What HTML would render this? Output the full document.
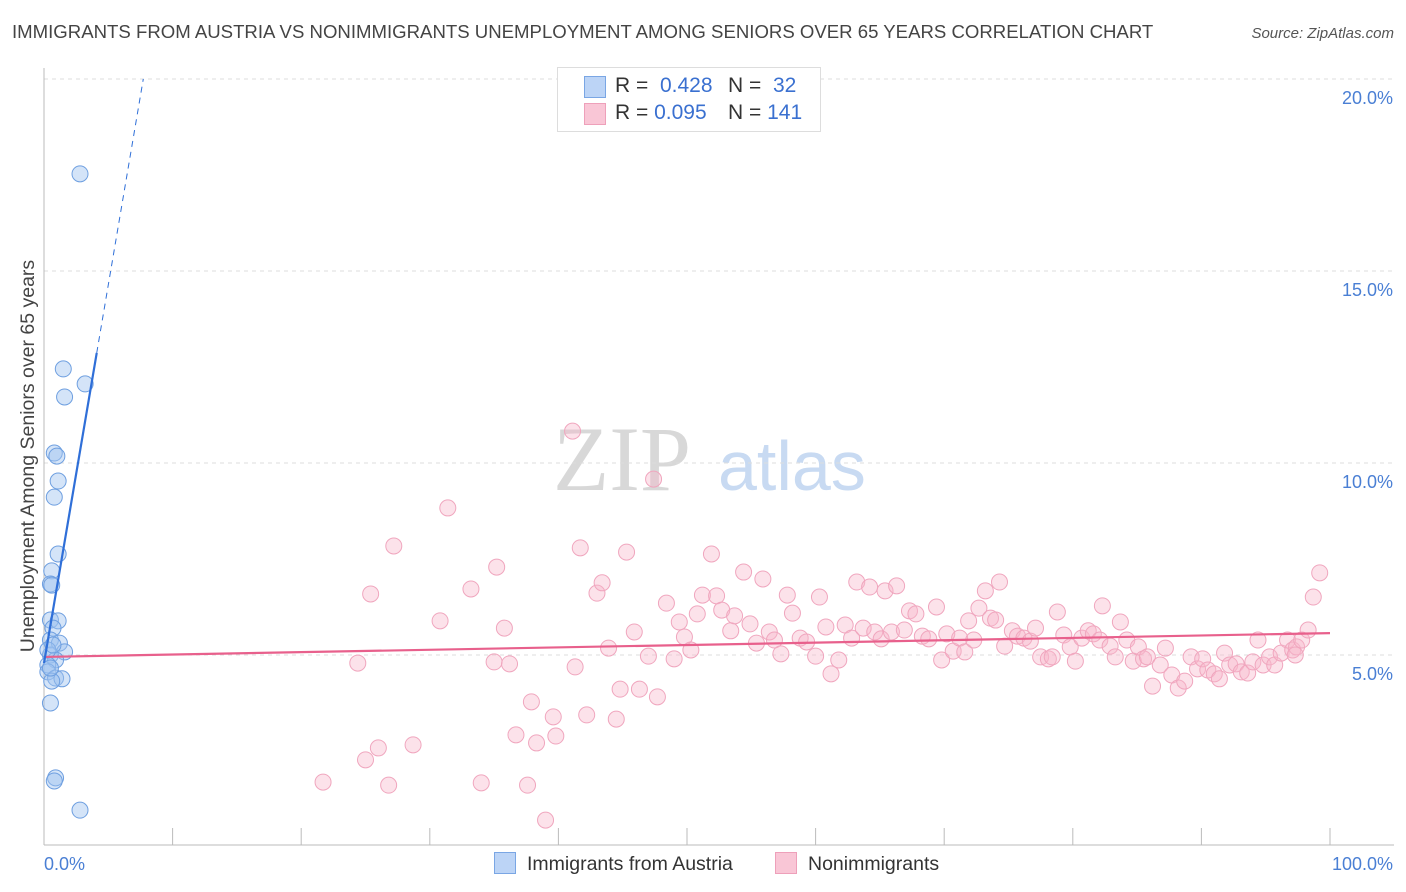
<!DOCTYPE html>
<html><head><meta charset="utf-8"><style>
body{margin:0;background:#fff;font-family:"Liberation Sans",sans-serif;}
#wrap{position:relative;width:1406px;height:892px;overflow:hidden;}
.t{position:absolute;white-space:nowrap;}
</style></head><body>
<div id="wrap">
<div class="t" style="left:12px;top:21px;font-size:18.6px;color:#444;">IMMIGRANTS FROM AUSTRIA VS NONIMMIGRANTS UNEMPLOYMENT AMONG SENIORS OVER 65 YEARS CORRELATION CHART</div>
<div class="t" style="right:12px;top:25px;font-size:15px;color:#555;font-style:italic;">Source: ZipAtlas.com</div>
<svg id="svg" width="1406" height="892" style="position:absolute;left:0;top:0"></svg>
</div>
<script>
const blueX=[2.8,1.5,3.2,1.6,0.8,1.0,1.1,0.8,1.1,0.6,0.5,0.6,0.5,1.1,0.7,0.5,1.2,1.6,0.5,0.9,0.3,0.3,0.9,1.4,0.6,0.5,0.9,0.8,2.8,0.3,0.7,0.5];
const blueY=[17.53,12.45,12.06,11.72,10.26,10.18,9.53,9.11,7.63,7.19,6.85,6.82,5.91,5.89,5.70,5.39,5.31,5.08,5.00,4.87,4.74,4.56,4.40,4.38,4.32,3.75,1.80,1.72,0.96,5.13,5.26,4.66];
const pinkX=[21.7,24.4,25.0,25.4,26.0,26.8,27.2,28.7,30.8,31.4,33.2,34.0,35.0,35.2,35.8,36.2,36.7,37.6,37.9,38.3,39.0,39.6,39.8,41.1,41.3,41.7,42.2,43.0,43.4,43.9,44.5,44.8,45.3,45.9,46.3,47.0,47.4,47.7,48.4,49.0,49.4,49.8,50.3,50.8,51.2,51.9,52.3,52.7,53.4,53.7,54.4,54.9,55.4,55.9,56.4,56.8,57.3,57.8,58.2,58.8,59.3,60.0,60.3,60.8,61.2,61.8,62.3,62.8,63.2,63.7,64.2,64.6,65.1,65.4,65.9,66.3,66.9,67.3,67.8,68.3,68.8,69.4,69.8,70.2,70.7,71.2,71.6,71.9,72.3,72.7,73.2,73.6,74.0,74.3,74.7,75.3,75.7,76.2,76.7,77.1,77.5,78.1,78.4,78.8,79.3,79.8,80.2,80.7,81.2,81.6,82.1,82.3,82.9,83.3,83.7,84.2,84.7,85.1,85.5,85.8,86.2,86.8,87.2,87.7,88.2,88.7,89.2,89.7,90.1,90.5,91.0,91.4,91.8,92.2,92.7,93.1,93.6,94.0,94.4,94.8,95.3,95.7,96.2,96.7,97.1,97.4,97.8,98.3,98.7,99.2,97.3];
const pinkY=[1.69,4.79,2.27,6.59,2.58,1.61,7.84,2.66,5.89,8.83,6.72,1.67,4.82,7.29,5.70,4.77,2.92,1.61,3.78,2.71,0.70,3.39,2.89,10.83,4.69,7.79,3.44,6.61,6.88,5.18,3.33,4.11,7.68,5.60,4.11,4.97,9.58,3.91,6.35,4.90,5.86,5.47,5.13,6.07,6.56,7.63,6.54,6.17,5.63,6.02,7.16,5.81,5.31,6.98,5.60,5.39,5.03,6.56,6.09,5.44,5.34,4.97,6.51,5.73,4.51,4.87,5.78,5.44,6.90,5.70,6.77,5.60,5.42,6.67,5.60,6.80,5.65,6.15,6.07,5.49,5.42,6.25,4.87,5.55,5.10,5.44,5.08,5.89,5.39,6.22,6.67,5.96,5.91,6.90,5.23,5.63,5.49,5.44,5.36,5.70,4.95,4.90,4.95,6.12,5.52,5.21,4.84,5.44,5.63,5.55,5.39,6.28,5.23,4.95,5.86,5.39,4.84,5.21,4.90,4.95,4.19,4.74,5.18,4.48,4.14,4.32,4.95,4.64,4.90,4.61,4.51,4.38,5.05,4.74,4.77,4.56,4.53,4.82,5.39,4.74,4.95,4.74,5.05,5.39,5.13,5.21,5.39,5.65,6.51,7.14,5.00];
const yTicks=[5,10,15,20];
const yTickLabels=["5.0%","10.0%","15.0%","20.0%"];
const blueFit=[4.79,1.97]; // intercept, slope
const pinkFit=[4.95,0.0062];
const NS='http://www.w3.org/2000/svg';
const svg=document.getElementById('svg');
const X=v=>44+v*12.86, Y=v=>847-v*38.4;
function el(t,a,p){const e=document.createElementNS(NS,t);for(const k in a)e.setAttribute(k,a[k]);(p||svg).appendChild(e);return e;}
let w=el('text',{x:553,y:490,'font-size':92,fill:'#d8d8d8','font-family':'Liberation Serif,serif'});w.textContent='ZIP';


let w2=el('text',{x:718,y:490,'font-size':70,fill:'#c8daf2','font-family':'Liberation Sans,sans-serif'});w2.textContent='atlas';


yTicks.forEach((t,i)=>{
 const g=el('line',{x1:44,x2:1394,y1:Y(t),y2:Y(t),stroke:'#ddd','stroke-dasharray':'4,4'});
 
 
 const tx=el('text',{x:1393,y:Y(t)+25,'text-anchor':'end','font-size':18,fill:'#4a7fd4'});tx.textContent=yTickLabels[i];
 
 
});
const ya=el('line',{x1:44,x2:44,y1:68,y2:845,stroke:'#bbb'});


const xa=el('line',{x1:44,x2:1394,y1:845,y2:845,stroke:'#bbb'});


for(let i=0;i<=10;i++){const tk=el('line',{x1:X(i*10),x2:X(i*10),y1:828,y2:845,stroke:'#bbb'});
 
 }
const x0=el('text',{x:44,y:870,'font-size':18,fill:'#4a7fd4'});x0.textContent='0.0%';


const x1=el('text',{x:1393,y:870,'font-size':18,fill:'#4a7fd4','text-anchor':'end'});x1.textContent='100.0%';


const yl=el('text',{transform:'translate(34,456) rotate(-90)','text-anchor':'middle','font-size':19.5,fill:'#444'});yl.textContent='Unemployment Among Seniors over 65 years';


pinkX.forEach((v,i)=>{const c=el('circle',{cx:X(v),cy:Y(pinkY[i]),r:8,fill:'rgba(248,182,202,0.4)',stroke:'#f0a6be','stroke-width':1});
 
 });
blueX.forEach((v,i)=>{const c=el('circle',{cx:X(v),cy:Y(blueY[i]),r:8,fill:'rgba(160,196,240,0.45)',stroke:'#6e9fe0','stroke-width':1});
 
 });
const pl=el('line',{x1:X(0),y1:Y(pinkFit[0]),x2:X(100),y2:Y(pinkFit[0]+pinkFit[1]*100),stroke:'#e8608c','stroke-width':2.2});


const xs=4.1,xe=(20.0-blueFit[0])/blueFit[1];
const bl=el('line',{x1:X(0),y1:Y(blueFit[0]),x2:X(xs),y2:Y(blueFit[0]+blueFit[1]*xs),stroke:'#2f6fd8','stroke-width':2.2});


const bd=el('line',{x1:X(xs),y1:Y(blueFit[0]+blueFit[1]*xs),x2:X(xe),y2:Y(20.0),stroke:'#2f6fd8','stroke-width':1,'stroke-dasharray':'6,5'});


</script>
<div class="t" style="left:557px;top:67px;width:262px;height:63px;border:1px solid #ddd;background:#fff;font-size:21px;color:#333;">
 <div style="position:absolute;left:26px;top:8px;width:20px;height:20px;background:#bcd4f6;border:1px solid #7aa6e4;"></div>
 <div style="position:absolute;left:57px;top:6px;">R = <span style="color:#3a70d0">&nbsp;0.428</span></div>
 <div style="position:absolute;left:170px;top:6px;">N = <span style="color:#3a70d0">&nbsp;32</span></div>
 <div style="position:absolute;left:26px;top:35px;width:20px;height:20px;background:#f9c6d6;border:1px solid #eea0ba;"></div>
 <div style="position:absolute;left:57px;top:33px;">R = <span style="color:#3a70d0">0.095</span></div>
 <div style="position:absolute;left:170px;top:33px;">N = <span style="color:#3a70d0">141</span></div>
</div>
<div class="t" style="left:494px;top:852px;font-size:19.5px;color:#333;">
 <span style="display:inline-block;width:20px;height:20px;background:#bcd4f6;border:1px solid #7aa6e4;vertical-align:-4px;margin-right:11px;"></span>Immigrants from Austria</div>
<div class="t" style="left:775px;top:852px;font-size:19.5px;color:#333;">
 <span style="display:inline-block;width:20px;height:20px;background:#f9c6d6;border:1px solid #eea0ba;vertical-align:-4px;margin-right:11px;"></span>Nonimmigrants</div>
</body></html>
